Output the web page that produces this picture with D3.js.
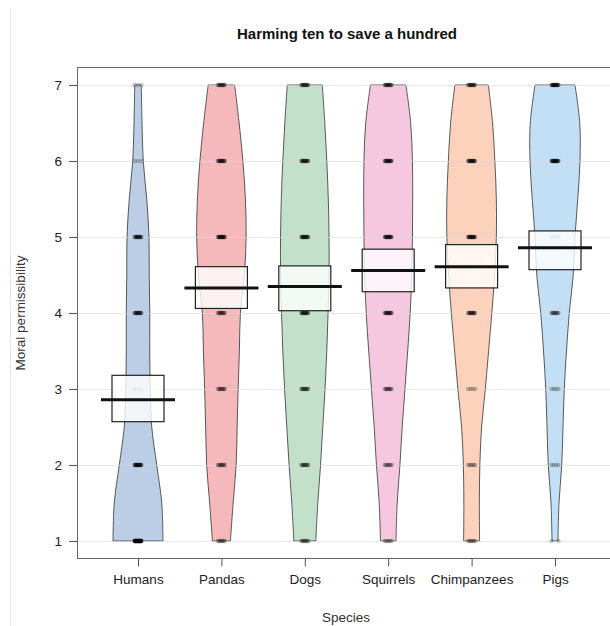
<!DOCTYPE html>
<html><head><meta charset="utf-8">
<script src="https://cdn.jsdelivr.net/npm/d3@7"></script>
<style>html,body{margin:0;padding:0;background:#fff;}svg{display:block;}</style>
</head><body>
<script>
// ---- data ----
const title = "Harming ten to save a hundred";
const species = ["Humans","Pandas","Dogs","Squirrels","Chimpanzees","Pigs"];
const yTicks = [1,2,3,4,5,6,7];
// mean and inference band (lower, upper) per species
const means = [2.86, 4.33, 4.35, 4.56, 4.61, 4.86];
const ciLow = [2.57, 4.06, 4.03, 4.28, 4.33, 4.57];
const ciHigh = [3.18, 4.61, 4.62, 4.84, 4.90, 5.08];
// bean (density) outline: relative half-width at levels 1,1.5,...,7
const densLevels = [1,1.5,2,2.5,3,3.5,4,4.5,5,5.5,6,6.5,7];
const densHumans = [1.00,0.95,0.75,0.55,0.49,0.47,0.47,0.45,0.44,0.35,0.21,0.16,0.13];
const densPandas = [0.36,0.47,0.59,0.63,0.67,0.72,0.76,0.92,0.99,0.96,0.86,0.71,0.53];
const densDogs = [0.44,0.52,0.63,0.72,0.81,0.88,0.93,0.97,0.97,0.94,0.88,0.80,0.70];
const densSquirrels = [0.31,0.36,0.47,0.56,0.67,0.78,0.88,0.94,0.97,0.98,0.97,0.90,0.71];
const densChimps = [0.32,0.31,0.33,0.40,0.55,0.68,0.81,0.92,0.99,0.99,0.93,0.84,0.67];
const densPigs = [0.12,0.16,0.27,0.32,0.37,0.46,0.57,0.73,0.80,0.91,1.00,0.99,0.80];
const densities = [densHumans,densPandas,densDogs,densSquirrels,densChimps,densPigs];
// number of responses at each rating 1..7
const ratingValues = [1,2,3,4,5,6,7];
const countsHumans = [50,22,3,16,16,3,3];
const countsPandas = [8,10,10,12,20,16,12];
const countsDogs = [9,11,12,16,18,16,14];
const countsSquirrels = [6,8,10,16,18,18,14];
const countsChimps = [7,6,4,14,20,18,14];
const countsPigs = [2,4,4,10,3,22,20];
const counts = [countsHumans,countsPandas,countsDogs,countsSquirrels,countsChimps,countsPigs];
const beanColors = ["#bccde6","#f5b9bc","#c3e1ca","#f5c8e0","#fcd2bd","#c3dff5"];

// ---- layout ----
const W = 610, H = 626;
const svg = d3.select("body").append("svg").attr("width", W).attr("height", H);
const frame = {left: 77, top: 67, right: 612, bottom: 558};
const x = d3.scalePoint().domain(species).range([138, 555]);
const y = d3.scaleLinear().domain([1,7]).range([541, 85]);
const wScale = d3.scaleLinear().domain([0,1]).range([0,25]);
const font = "Liberation Sans, Arial, sans-serif";

// page edge line
svg.append("line").attr("x1",10.5).attr("x2",10.5).attr("y1",8).attr("y2",H)
  .attr("stroke","#e4e4e4").attr("stroke-width",1);

// beans
const area = d3.area()
  .y(d => y(d.v))
  .x0(d => d.cx - wScale(d.w))
  .x1(d => d.cx + wScale(d.w))
  .curve(d3.curveCatmullRom.alpha(0.5));
species.forEach((s, i) => {
  const pts = densLevels.map((v, k) => ({v, w: densities[i][k], cx: x(s)}));
  svg.append("path").attr("d", area(pts))
    .attr("fill", beanColors[i])
    .attr("stroke", "#333").attr("stroke-width", 0.8);
});

// gridlines (drawn faintly over the beans, as in the translucent original)
svg.append("g").selectAll("line").data(yTicks).join("line")
  .attr("x1", frame.left).attr("x2", frame.right)
  .attr("y1", d => Math.round(y(d))+0.5).attr("y2", d => Math.round(y(d))+0.5)
  .attr("stroke", "#d8d8d8").attr("stroke-opacity", 0.6).attr("stroke-width", 1);

// points
const gPts = svg.append("g");
species.forEach((s, i) => {
  ratingValues.forEach((v, k) => {
    const n = counts[i][k];
    for (let j = 0; j < n; j++) {
      const off = n > 1 ? (j/(n-1) - 0.5) * 7 : 0;
      gPts.append("circle").attr("cx", x(s) + off).attr("cy", y(v)).attr("r", 2.2)
        .attr("fill", "#000").attr("fill-opacity", 0.22);
    }
  });
});

// inference bands
svg.append("g").selectAll("rect").data(species).join("rect")
  .attr("x", d => x(d) - 26).attr("width", 52)
  .attr("y", (d,i) => y(ciHigh[i])).attr("height", (d,i) => y(ciLow[i]) - y(ciHigh[i]))
  .attr("fill", "#fff").attr("fill-opacity", 0.8)
  .attr("stroke", "#222").attr("stroke-width", 1.2);

// mean lines
svg.append("g").selectAll("line").data(species).join("line")
  .attr("x1", d => x(d) - 37).attr("x2", d => x(d) + 37)
  .attr("y1", (d,i) => y(means[i])).attr("y2", (d,i) => y(means[i]))
  .attr("stroke", "#111").attr("stroke-width", 3);

// frame
svg.append("rect").attr("x", frame.left + 0.5).attr("y", frame.top + 0.5)
  .attr("width", frame.right - frame.left).attr("height", frame.bottom - frame.top)
  .attr("fill", "none").attr("stroke", "#666").attr("stroke-width", 1);

// axes
const yAxis = d3.axisLeft(y).tickValues(yTicks).tickFormat(d3.format("d")).tickSize(8).tickPadding(7);
const gy = svg.append("g").attr("transform", `translate(${frame.left},0)`).call(yAxis);
gy.select(".domain").remove();
gy.selectAll(".tick line").attr("stroke", "#555");
gy.selectAll(".tick text").attr("font-family", font)
  .attr("font-size", 13.5).attr("fill", "#222");

const xAxis = d3.axisBottom(x).tickSize(8).tickPadding(8);
const gx = svg.append("g").attr("transform", `translate(0,${frame.bottom + 0.5})`).call(xAxis);
gx.select(".domain").remove();
gx.selectAll(".tick line").attr("stroke", "#555");
gx.selectAll(".tick text").attr("font-family", font)
  .attr("font-size", 13.5).attr("fill", "#222");

// titles
svg.append("text").attr("x", 347).attr("y", 39).attr("text-anchor", "middle")
  .attr("font-family", font).attr("font-weight", "bold")
  .attr("font-size", 15).attr("fill", "#111").text(title);
svg.append("text").attr("x", 346).attr("y", 622).attr("text-anchor", "middle")
  .attr("font-family", font)
  .attr("font-size", 13.5).attr("fill", "#333").text("Species");
svg.append("text").attr("transform", "translate(25,313) rotate(-90)").attr("text-anchor", "middle")
  .attr("font-family", font)
  .attr("font-size", 13.5).attr("fill", "#333").text("Moral permissibility");
</script>
</body></html>
